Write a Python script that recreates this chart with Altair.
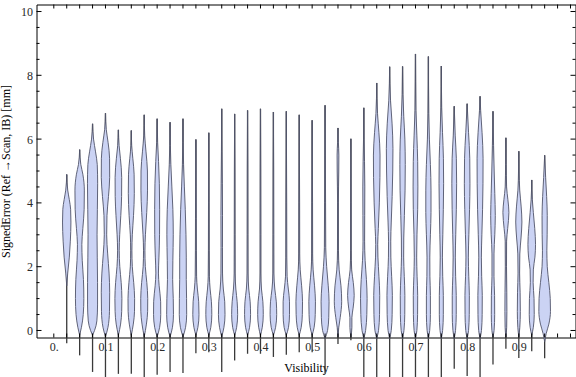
import altair as alt
import pandas as pd

# category positions (Visibility)
visibility = [0.025, 0.05, 0.075, 0.1, 0.125, 0.15, 0.175, 0.2, 0.225, 0.25,
              0.275, 0.3, 0.325, 0.35, 0.375, 0.4, 0.425, 0.45, 0.475, 0.5,
              0.525, 0.55, 0.575, 0.6, 0.625, 0.65, 0.675, 0.7, 0.725, 0.75,
              0.775, 0.8, 0.825, 0.85, 0.875, 0.9, 0.925, 0.95]

# extent of each distribution (min / max of SignedError)
tail_low = [-0.40, -0.78, -1.30, -1.46, -1.36, -1.36, -1.46, -1.39, -1.30, -1.33,
            -0.71, -0.68, -1.30, -0.94, -0.73, -0.73, -0.83, -0.76, -0.68, -0.68,
            -1.36, -0.42, -0.31, -1.46, -1.46, -1.46, -1.46, -1.46, -1.46, -1.46,
            -1.20, -1.43, -1.46, -1.07, -0.57, -0.86, -0.65, -0.87]
tail_high = [4.88, 5.67, 6.48, 6.81, 6.29, 6.27, 6.76, 6.64, 6.53, 6.64,
             5.99, 6.20, 6.95, 6.79, 6.90, 6.95, 6.85, 6.87, 6.76, 6.59,
             7.06, 6.35, 6.01, 6.98, 7.76, 8.27, 8.28, 8.67, 8.59, 8.29,
             7.03, 7.11, 7.34, 6.87, 6.04, 5.62, 4.72, 5.49]

# density profile of each violin: SignedError levels and relative density (half width)
profile_y = [
    [1.4, 1.8, 2.3, 2.8, 3.4, 3.8, 4.1, 4.4, 4.9],
    [-0.15, 0.1, 0.5, 1.0, 1.6, 2.2, 2.7, 3.2, 3.8, 4.4, 4.9, 5.2, 5.67],
    [-0.15, 0.0, 0.3, 0.8, 1.5, 2.3, 3.0, 3.8, 4.6, 5.2, 5.6, 6.0, 6.48],
    [-0.2, 0.1, 0.6, 1.2, 1.8, 2.4, 3.0, 3.6, 4.2, 4.8, 5.4, 5.9, 6.3, 6.81],
    [-0.15, 0.2, 0.6, 1.0, 1.5, 2.0, 2.5, 3.0, 3.6, 4.2, 4.8, 5.4, 5.8, 6.29],
    [-0.15, 0.2, 0.6, 1.0, 1.5, 2.0, 2.5, 3.0, 3.6, 4.3, 4.9, 5.4, 5.8, 6.27],
    [-0.2, 0.2, 0.6, 1.0, 1.5, 2.0, 2.5, 3.0, 3.7, 4.4, 5.0, 5.6, 6.1, 6.76],
    [-0.2, 0.1, 0.5, 0.9, 1.4, 1.8, 2.3, 3.0, 3.8, 4.6, 5.3, 5.9, 6.64],
    [-0.2, 0.1, 0.5, 1.0, 1.6, 2.2, 3.0, 3.8, 4.5, 5.2, 5.8, 6.53],
    [-0.2, 0.1, 0.5, 1.0, 1.6, 2.3, 3.0, 3.8, 4.5, 5.2, 5.9, 6.64],
    [-0.15, 0.1, 0.5, 0.9, 1.3, 1.7, 2.5, 3.5, 4.5, 5.99],
    [-0.15, 0.1, 0.5, 0.9, 1.3, 1.7, 2.5, 4.0, 6.2],
    [-0.2, 0.1, 0.5, 0.9, 1.3, 1.8, 2.6, 3.6, 4.6, 5.6, 6.95],
    [-0.15, 0.1, 0.5, 0.9, 1.3, 1.8, 3.0, 5.0, 6.79],
    [-0.15, 0.1, 0.5, 0.9, 1.3, 1.8, 3.0, 5.0, 6.9],
    [-0.15, 0.1, 0.5, 0.9, 1.3, 1.8, 3.0, 5.0, 6.95],
    [-0.15, 0.1, 0.5, 0.9, 1.3, 1.8, 3.0, 5.0, 6.85],
    [-0.15, 0.1, 0.5, 0.9, 1.3, 1.7, 2.3, 4.0, 6.87],
    [-0.15, 0.1, 0.5, 0.9, 1.4, 1.9, 2.4, 4.0, 6.76],
    [-0.15, 0.1, 0.5, 0.9, 1.4, 1.9, 2.4, 4.0, 6.59],
    [-0.25, 0.0, 0.4, 0.9, 1.4, 2.0, 2.6, 4.0, 5.5, 7.06],
    [-0.2, 0.1, 0.4, 0.9, 1.4, 1.9, 2.5, 4.0, 5.0, 5.5, 5.9, 6.35],
    [-0.2, 0.1, 0.4, 0.7, 1.1, 1.5, 1.9, 2.5, 4.0, 6.01],
    [-0.25, 0.0, 0.5, 1.0, 1.6, 2.2, 2.8, 3.6, 4.5, 5.3, 6.0, 6.98],
    [-0.25, 0.0, 0.5, 1.1, 1.7, 2.3, 2.7, 3.2, 4.0, 4.8, 5.5, 6.2, 6.8, 7.76],
    [-0.25, 0.0, 0.5, 1.1, 1.7, 2.3, 2.8, 3.4, 4.2, 5.0, 5.7, 6.5, 7.2, 8.27],
    [-0.25, 0.0, 0.5, 1.1, 1.7, 2.3, 2.9, 3.6, 4.4, 5.2, 6.0, 6.7, 7.4, 8.28],
    [-0.25, 0.0, 0.5, 1.1, 1.7, 2.3, 3.0, 3.8, 4.5, 5.3, 6.1, 6.9, 7.8, 8.67],
    [-0.25, 0.0, 0.5, 1.1, 1.7, 2.3, 3.0, 3.7, 4.4, 5.2, 6.0, 6.8, 8.59],
    [-0.25, 0.0, 0.5, 1.1, 1.7, 2.3, 3.0, 3.8, 4.6, 5.4, 6.2, 7.0, 8.29],
    [-0.25, 0.0, 0.5, 1.1, 1.7, 2.3, 3.0, 3.8, 4.6, 5.4, 6.1, 7.03],
    [-0.25, 0.0, 0.5, 1.1, 1.7, 2.3, 3.0, 3.8, 4.6, 5.4, 6.2, 7.11],
    [-0.25, 0.0, 0.5, 1.1, 1.7, 2.3, 3.0, 3.8, 4.6, 5.4, 6.2, 6.9, 7.34],
    [-0.2, 0.0, 0.5, 1.1, 1.7, 2.4, 3.0, 3.6, 4.3, 5.0, 5.8, 6.87],
    [-0.2, 0.1, 0.6, 1.2, 2.0, 2.8, 3.2, 3.7, 4.1, 4.5, 5.2, 6.04],
    [-0.2, 0.1, 0.6, 1.2, 1.8, 2.4, 2.9, 3.4, 3.9, 4.4, 5.0, 5.62],
    [-0.15, 0.1, 0.5, 1.0, 1.5, 1.9, 2.3, 2.7, 3.2, 3.7, 4.1, 4.72],
    [-0.35, -0.1, 0.2, 0.6, 1.0, 1.5, 2.0, 2.5, 3.0, 3.6, 4.2, 4.8, 5.49],
]
profile_w = [
    [0, 1.0, 2.6, 3.6, 4.2, 3.9, 2.6, 1.0, 0],
    [0, 1.8, 3.6, 4.2, 3.8, 2.6, 2.2, 3.2, 4.5, 4.7, 3.2, 1.2, 0],
    [0, 2.0, 4.3, 5.0, 5.0, 4.7, 4.5, 4.8, 5.1, 4.7, 3.0, 1.0, 0],
    [0, 2.5, 4.0, 4.2, 3.6, 2.2, 1.2, 1.5, 3.0, 4.2, 4.1, 2.6, 0.8, 0],
    [0, 2.2, 3.3, 3.5, 2.8, 1.4, 0.8, 1.3, 2.4, 3.2, 3.3, 2.0, 0.7, 0],
    [0, 2.0, 3.2, 3.3, 2.4, 1.0, 0.6, 1.0, 2.2, 3.0, 2.8, 1.5, 0.4, 0],
    [0, 2.2, 3.4, 3.5, 2.6, 1.1, 0.7, 1.2, 2.5, 3.3, 3.2, 1.8, 0.5, 0],
    [0, 2.5, 3.6, 3.5, 2.0, 1.3, 1.8, 2.4, 2.5, 2.2, 1.4, 0.5, 0],
    [0, 2.4, 3.4, 3.2, 2.6, 2.8, 3.2, 2.8, 1.8, 0.8, 0.3, 0],
    [0, 2.6, 3.7, 3.6, 3.3, 3.3, 3.0, 2.3, 1.4, 0.6, 0.2, 0],
    [0, 2.0, 3.1, 2.8, 1.5, 0.7, 0.5, 0.4, 0.3, 0],
    [0, 2.0, 3.0, 2.6, 1.3, 0.6, 0.4, 0.3, 0],
    [0, 2.2, 3.3, 3.0, 1.6, 0.8, 0.7, 0.8, 0.6, 0.3, 0],
    [0, 2.0, 3.0, 2.5, 1.2, 0.5, 0.4, 0.3, 0],
    [0, 2.0, 3.0, 2.6, 1.2, 0.5, 0.4, 0.3, 0],
    [0, 1.8, 2.8, 2.4, 1.0, 0.4, 0.4, 0.3, 0],
    [0, 2.2, 3.3, 2.9, 1.4, 0.5, 0.4, 0.3, 0],
    [0, 2.2, 3.2, 3.2, 2.0, 0.8, 0.5, 0.4, 0],
    [0, 2.0, 3.1, 3.3, 2.4, 1.0, 0.5, 0.4, 0],
    [0, 2.0, 3.1, 3.3, 2.4, 1.0, 0.5, 0.4, 0],
    [0, 2.5, 3.7, 4.0, 3.2, 1.6, 0.7, 0.5, 0.3, 0],
    [0, 0.8, 2.2, 3.7, 3.0, 1.2, 0.5, 0.4, 0.8, 0.9, 0.4, 0],
    [0, 1.0, 1.0, 2.2, 3.3, 2.4, 0.8, 0.3, 0.3, 0],
    [0, 1.8, 3.0, 3.3, 2.6, 1.3, 0.8, 0.9, 1.0, 0.7, 0.3, 0],
    [0, 1.8, 2.8, 3.0, 2.2, 1.2, 1.0, 1.6, 2.6, 3.2, 3.3, 2.2, 0.8, 0],
    [0, 1.6, 2.5, 2.7, 2.0, 1.2, 1.1, 1.6, 2.5, 3.1, 3.3, 2.4, 0.9, 0],
    [0, 1.4, 2.2, 2.3, 1.7, 1.1, 1.2, 1.8, 2.5, 2.7, 2.3, 1.2, 0.4, 0],
    [0, 1.4, 2.1, 2.2, 1.6, 1.2, 1.5, 2.2, 2.4, 2.2, 1.4, 0.5, 0.2, 0],
    [0, 1.3, 2.0, 2.0, 1.5, 1.4, 2.0, 2.6, 2.6, 2.0, 1.0, 0.4, 0],
    [0, 1.3, 2.0, 2.0, 1.4, 1.1, 1.5, 2.0, 2.3, 2.1, 1.2, 0.4, 0],
    [0, 1.3, 2.0, 2.0, 1.4, 1.1, 1.5, 2.1, 2.4, 2.1, 1.0, 0],
    [0, 1.4, 2.1, 2.2, 1.6, 1.2, 1.7, 2.4, 2.8, 2.6, 1.4, 0],
    [0, 1.4, 2.1, 2.2, 1.6, 1.3, 1.8, 2.5, 2.9, 3.0, 2.0, 0.6, 0],
    [0, 1.1, 1.7, 1.6, 1.0, 1.0, 1.8, 2.3, 1.8, 1.2, 0.6, 0],
    [0, 0.8, 1.0, 0.9, 0.6, 0.7, 1.8, 3.0, 2.0, 0.7, 0.3, 0],
    [0, 1.0, 1.5, 1.3, 0.8, 1.0, 2.2, 3.1, 2.3, 0.9, 0.3, 0],
    [0, 1.6, 2.5, 2.3, 1.4, 1.6, 3.2, 3.8, 3.0, 1.6, 0.6, 0],
    [0, 1.5, 4.2, 5.8, 5.6, 4.2, 2.6, 2.2, 2.5, 2.6, 2.0, 1.0, 0],
]

# axis tick positions
y_major = [0, 2, 4, 6, 8, 10]
y_minor = [0.5, 1, 1.5, 2.5, 3, 3.5, 4.5, 5, 5.5, 6.5, 7, 7.5, 8.5, 9, 9.5]
x_labels = [0, 0.1, 0.2, 0.3, 0.4, 0.5, 0.6, 0.7, 0.8, 0.9]
x_ticks = [0.0] + visibility + [0.975, 1.0]

WIDTH_SCALE = 1 / 516.7  # relative density -> visibility units

rows = []
for i, (v, ys_, ws_) in enumerate(zip(visibility, profile_y, profile_w)):
    for k, (yy, ww) in enumerate(zip(ys_, ws_)):
        rows.append({"id": i, "k": k, "v": v, "y": yy, "w": ww})
prof_df = pd.DataFrame(rows).sort_values(["id", "y"])
tails_df = pd.DataFrame({"v": visibility, "lo": tail_low, "hi": tail_high})

xs = alt.Scale(domain=[-0.0335, 1.0097], nice=False, zero=False)
ys = alt.Scale(domain=[-0.22, 10.22], nice=False, zero=False)

FONT = "Liberation Serif"
LBL = "#2a2a2a"
XTITLE = "Visibility"
YTITLE = "SignedError (Ref →Scan, IB) [mm]"

x_axis = alt.Axis(values=x_labels, labelExpr="datum.value == 0 ? '0.' : format(datum.value, '.1f')")
y_axis = alt.Axis(values=y_major)

tails = alt.Chart(tails_df).mark_rule(color="#3a3a3a", strokeWidth=1.3).encode(
    x=alt.X("v:Q", scale=xs, axis=x_axis, title=XTITLE),
    y=alt.Y("lo:Q", scale=ys, axis=y_axis, title=YTITLE),
    y2="hi:Q",
)

violins = alt.Chart(prof_df).transform_calculate(
    left=f"datum.v - datum.w * {WIDTH_SCALE}",
    right=f"datum.v + datum.w * {WIDTH_SCALE}",
).mark_area(orient="horizontal", interpolate="monotone", fill="#cbd3f4", fillOpacity=1,
            stroke="#50546a", strokeWidth=0.9).encode(
    y=alt.Y("y:Q", scale=ys, axis=y_axis, title=YTITLE),
    x=alt.X("left:Q", scale=xs, axis=x_axis, title=XTITLE, stack=None),
    x2="right:Q",
    detail="id:N",
)

ymaj_df = pd.DataFrame({"t": y_major})
ymin_df = pd.DataFrame({"t": y_minor})
xt_df = pd.DataFrame({"t": x_ticks})

def ytick(df, x0, x1):
    return alt.Chart(df).mark_rule(color="black", strokeWidth=1).encode(
        y=alt.Y("t:Q", scale=ys, axis=y_axis, title=YTITLE), x=alt.value(x0), x2=alt.value(x1))

def xtick(y0, y1):
    return alt.Chart(xt_df).mark_rule(color="black", strokeWidth=1).encode(
        x=alt.X("t:Q", scale=xs, axis=x_axis, title=XTITLE), y=alt.value(y0), y2=alt.value(y1))

chart = alt.layer(
    tails, violins,
    ytick(ymaj_df, 0, 5), ytick(ymaj_df, 539, 534),
    ytick(ymin_df, 0, 3), ytick(ymin_df, 539, 536),
    xtick(0, 4), xtick(333, 329),
).properties(
    width=539, height=333,
    autosize=alt.AutoSizeParams(type="none"),
    padding={"left": 36.5, "top": 4.5, "right": 0.5, "bottom": 39.5},
).configure(background="white").configure_view(
    stroke="black", strokeWidth=1
).configure_axis(
    domain=False, ticks=False, grid=False, labelFont=FONT, labelFontSize=12,
    labelColor=LBL, labelPadding=4, titleFont=FONT, titleFontSize=12,
    titleFontWeight="normal", titleColor="black",
).configure_axisX(titlePadding=10).configure_axisY(titlePadding=8)

chart.save("out.html", embed_options={"renderer": "svg", "actions": False})
